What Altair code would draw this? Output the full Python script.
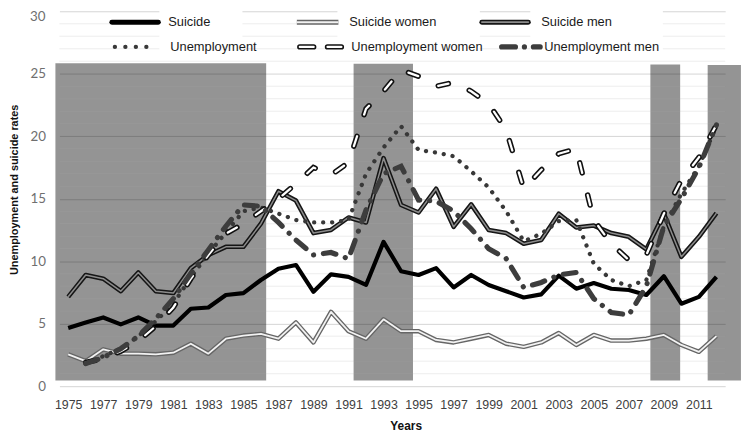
import altair as alt
import pandas as pd

years = list(range(1975, 2013))
suicide = [4.66, 5.1, 5.5, 4.95, 5.5, 4.85, 4.85, 6.2, 6.3, 7.3,
           7.45, 8.5, 9.4, 9.7, 7.55, 8.95, 8.75, 8.1, 11.55, 9.2,
           8.9, 9.45, 7.9, 8.9, 8.1, 7.6, 7.1, 7.35, 8.85, 7.8,
           8.25, 7.8, 7.7, 7.3, 8.8, 6.6, 7.15, 8.75]
suicide_women = [2.55, 2.0, 2.95, 2.6, 2.6, 2.55, 2.68, 3.4, 2.6, 3.8,
                 4.05, 4.18, 3.8, 5.1, 3.5, 5.95, 4.4, 3.8, 5.35, 4.4,
                 4.4, 3.7, 3.5, 3.8, 4.1, 3.4, 3.15, 3.5, 4.25, 3.3,
                 4.1, 3.65, 3.65, 3.8, 4.1, 3.3, 2.75, 4.0]
suicide_men = [7.15, 8.9, 8.6, 7.6, 9.1, 7.6, 7.45, 9.45, 10.5, 11.15,
               11.15, 13.0, 15.6, 14.85, 12.25, 12.5, 13.5, 13.1, 18.25, 14.5,
               13.9, 15.8, 12.75, 14.55, 12.5, 12.25, 11.4, 11.7, 13.8, 12.7,
               12.85, 12.25, 11.95, 10.95, 13.8, 10.35, 11.95, 13.85]
unemployment = [None, 1.8, 2.4, 3.0, 4.0, 5.2, 6.6, 8.7, 10.6, 12.3,
                14.0, 14.3, 13.8, 13.3, 13.1, 13.1, 13.3, 17.0, 19.1, 20.8,
                18.9, 18.7, 18.4, 17.2, 15.9, 14.0, 11.6, 12.2, 13.2, 13.3,
                9.8, 8.5, 8.0, 8.5, 12.8, 15.4, 17.6, 20.8]
unemployment_women = [None, 1.9, 2.2, 2.8, 3.6, 4.8, 6.3, 8.6, 10.5, 12.2,
                      13.0, 14.0, 15.0, 16.2, 17.5, 16.9, 17.9, 22.2, 23.6, 25.3,
                      24.8, 24.0, 24.3, 23.6, 22.6, 20.5, 15.8, 17.3, 18.6, 19.0,
                      13.3, 11.4, 10.1, 10.5, 13.8, 16.5, 18.3, 20.9]
unemployment_men = [None, 1.8, 2.3, 3.0, 4.0, 5.4, 7.0, 9.0, 10.9, 12.8,
                    14.5, 14.4, 13.1, 11.7, 10.5, 10.7, 10.2, 14.1, 17.0, 17.6,
                    14.9, 14.8, 14.0, 12.6, 11.0, 10.2, 7.9, 8.3, 8.9, 9.1,
                    7.0, 5.9, 5.7, 8.0, 12.8, 15.0, 17.5, 20.9]

# shaded crisis periods
shade_start = [1974.27, 1991.29, 2008.23, 2011.5]
shade_end = [1986.3, 1994.68, 2009.93, 2013.4]
shade_low = [0.45, 0.45, 0.45, 0.45]
shade_high = [25.85, 25.8, 25.75, 25.7]

x_ticks = list(range(1975, 2012, 2))
y_ticks = [0, 5, 10, 15, 20, 25]
top_tick = 30
minor_values = [v for v in range(1, 30) if v % 5 != 0]

W, H = 673, 379
SANS = "Liberation Sans, Arial, sans-serif"

df = pd.DataFrame({
    "year": years,
    "suicide": suicide,
    "suicide_women": suicide_women,
    "suicide_men": suicide_men,
    "unemployment": unemployment,
    "unemployment_women": unemployment_women,
    "unemployment_men": unemployment_men,
})
shade_df = pd.DataFrame({"year": shade_start, "e": shade_end, "lo": shade_low, "hi": shade_high})
minor_df = pd.DataFrame({"v": minor_values})
one = pd.DataFrame({"a": [0]})

xscale = alt.Scale(domain=[1974.5, 2012.5], nice=False, zero=False)
yscale = alt.Scale(domain=[0, 30], nice=False)

xaxis = alt.Axis(values=x_ticks, format="d", grid=False, domain=False, ticks=False,
                 labelFont=SANS, labelFontSize=12.5, labelColor="#404040", labelPadding=13,
                 labelOverlap=False, labelFlush=False,
                 title="Years", titleFont=SANS, titleFontSize=12, titleFontWeight="bold",
                 titleColor="#111111", titleX=350, titleY=40, titleBaseline="middle")
yaxis = alt.Axis(values=y_ticks + [top_tick], grid=True, gridColor="#d4d4d4", gridWidth=1,
                 domain=False, ticks=False, labelFont="Lato", labelFontSize=13.5,
                 labelColor="#6f6f6f", labelPadding=14,
                 labelExpr="datum.value == 30 ? '' : datum.label",
                 title="Unemployment and suicide rates", titleFont=SANS, titleFontSize=11,
                 titleFontWeight="bold", titleColor="#111111", titleAngle=-90,
                 titleX=-45, titleY=180, titleAlign="center", titleBaseline="middle")


def X(field):
    return alt.X(field, type="quantitative", scale=xscale, axis=xaxis)


def Y(field):
    return alt.Y(field, type="quantitative", scale=yscale, axis=yaxis)


base = alt.Chart(df)

top_label = alt.Chart(one).mark_text(
    text=str(top_tick), align="right", baseline="middle", dy=6,
    font="Lato", fontSize=13.5, color="#6f6f6f").encode(
    x=alt.value(-14), y=alt.value(0))

minor_under = alt.Chart(minor_df).mark_rule(color="#ececec", strokeWidth=1).encode(
    y=Y("v"), x=alt.value(0), x2=alt.value(W))

shade = alt.Chart(shade_df).mark_rect(color="#000000", opacity=0.42).encode(
    x=X("year"), x2="e:Q", y=Y("lo"), y2="hi:Q")

minor_over = alt.Chart(minor_df).mark_rule(color="#ffffff", opacity=0.14, strokeWidth=1).encode(
    y=Y("v"), x=alt.value(0), x2=alt.value(W))


def line(col, **kw):
    return base.mark_line(**kw).encode(x=X("year"), y=Y(col))


DOTS = [0.1, 9.0]
WDASH = [10.5, 23]
MDASH = [13, 10, 0.1, 10]

layers = [
    minor_under, shade, minor_over,
    line("suicide", color="#000000", strokeWidth=4.2, strokeJoin="round"),
    line("suicide_women", color="#666666", strokeWidth=4.5, strokeJoin="round"),
    line("suicide_women", color="#f2f2f2", strokeWidth=1.8, strokeJoin="round"),
    line("suicide_men", color="#151515", strokeWidth=4.6, strokeJoin="round"),
    line("suicide_men", color="#8c8c8c", strokeWidth=1.5, strokeJoin="round"),
    line("unemployment", color="#383838", strokeWidth=4.3, strokeDash=DOTS, strokeCap="round"),
    line("unemployment_women", color="#111111", strokeWidth=5.5, strokeDash=WDASH, strokeCap="round"),
    line("unemployment_women", color="#ffffff", strokeWidth=2.3, strokeDash=WDASH, strokeCap="round"),
    line("unemployment_men", color="#3d3d3d", strokeWidth=5.2, strokeDash=MDASH, strokeCap="round"),
]

# legend (plot-pixel layout)
for bx0, bx1 in [(101, 185), (281, 425), (476, 610)]:
    layers.append(alt.Chart(one).mark_rect(color="white").encode(
        x=alt.value(bx0), x2=alt.value(bx1), y=alt.value(-6), y2=alt.value(47)))

layers.append(top_label)

R1, R2 = 11, 36


def sample(x0, x1, y, **kw):
    return alt.Chart(one).mark_rule(**kw).encode(x=alt.value(x0), x2=alt.value(x1), y=alt.value(y))


def label(x, y, txt):
    return alt.Chart(one).mark_text(text=txt, align="left", baseline="middle", font=SANS,
                                    fontSize=13, color="#1a1a1a").encode(
        x=alt.value(x), y=alt.value(y))


layers += [
    sample(53, 100, R1, color="#000000", strokeWidth=5, strokeCap="round"),
    label(110, R1, "Suicide"),
    sample(240, 282, R1, color="#666666", strokeWidth=5),
    sample(240, 282, R1, color="#f2f2f2", strokeWidth=2),
    label(293, R1, "Suicide women"),
    sample(427, 474, R1, color="#151515", strokeWidth=5, strokeCap="round"),
    sample(427, 474, R1, color="#8c8c8c", strokeWidth=1.6, strokeCap="round"),
    label(487, R1, "Suicide men"),
    sample(56, 98, R2, color="#383838", strokeWidth=4.3, strokeDash=[0.1, 10.5], strokeCap="round"),
    label(112, R2, "Unemployment"),
    sample(243, 290, R2, color="#111111", strokeWidth=5.5, strokeDash=[14, 14], strokeCap="round"),
    sample(243, 290, R2, color="#ffffff", strokeWidth=2.3, strokeDash=[14, 14], strokeCap="round"),
    label(295, R2, "Unemployment women"),
    sample(447, 486, R2, color="#3d3d3d", strokeWidth=5.2, strokeDash=[14, 9, 0.1, 9], strokeCap="round"),
    label(490, R2, "Unemployment men"),
]

chart = alt.layer(*layers).properties(
    width=W, height=H,
    autosize=alt.AutoSizeParams(type="none"),
    padding={"left": 52, "top": 1, "right": 17, "bottom": 44},
).configure_view(stroke=None).configure_axis(zindex=0).configure_axisX(labelOverlap=False)

chart.save("out.html", embed_options={"renderer": "svg", "actions": False})
